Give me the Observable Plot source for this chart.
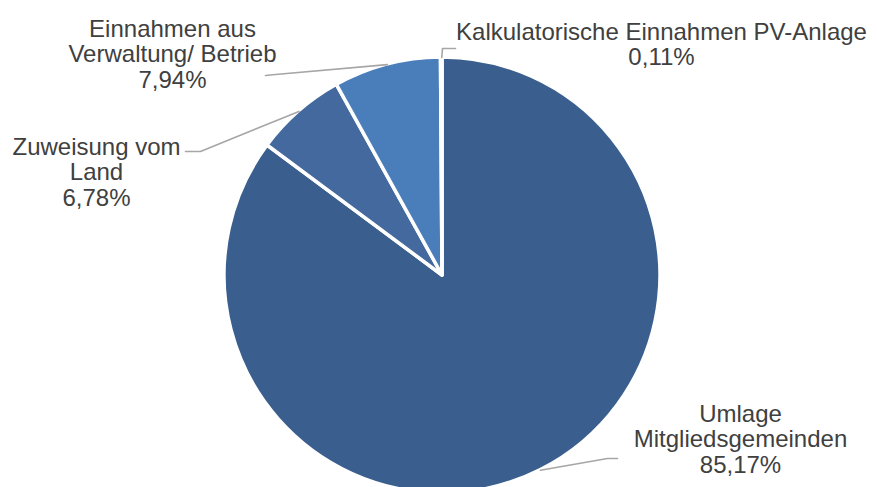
<!DOCTYPE html>
<html>
<head>
<meta charset="utf-8">
<script src="https://cdn.jsdelivr.net/npm/d3@7"></script>
<script src="https://cdn.jsdelivr.net/npm/@observablehq/plot@0.6"></script>
<style>
  html, body { margin: 0; padding: 0; background: #ffffff; }
  #chart svg { display: block; }
</style>
</head>
<body>
<div id="chart"></div>
<script>
// ---- data ----
const categories = [
  "Umlage Mitgliedsgemeinden",
  "Zuweisung vom Land",
  "Einnahmen aus Verwaltung/ Betrieb",
  "Kalkulatorische Einnahmen PV-Anlage"
];
const labelText = [
  "Umlage\nMitgliedsgemeinden",
  "Zuweisung vom\nLand",
  "Einnahmen aus\nVerwaltung/ Betrieb",
  "Kalkulatorische Einnahmen PV-Anlage"
];
const shares = [85.17, 6.78, 7.94, 0.11];

// ---- styles ----
const colors = ["#3a5f8e", "#43699f", "#4a7ebb", "#5a8cc8"];

// ---- layout ----
const W = 877, H = 487;
const cx = 442, cy = 275, R = 218;
// text anchor (center, top) and leader elbow/end per category
const labelLayout = [
  {tx: 740, ty: 403, elbow: [607, 458], end: [617, 458]},
  {tx: 96,  ty: 136, elbow: [200, 151], end: [185, 151]},
  {tx: 172, ty: 18,  elbow: [275, 74],  end: [265, 75]},
  {tx: 661, ty: 21,  elbow: [442, 48],  end: [455, 48]}
];

const fmt = v => d3.format(".2f")(v).replace(".", ",") + "%";

const arcs = d3.pie().sort(null).value(d => d)(shares);

const labels = categories.map((c, i) => ({
  category: c,
  label: labelText[i] + "\n" + fmt(shares[i]),
  tx: labelLayout[i].tx,
  ty: labelLayout[i].ty
}));

const leaders = [];
arcs.forEach((a, i) => {
  const mid = (a.startAngle + a.endAngle) / 2;
  const sx = cx + R * Math.sin(mid);
  const sy = cy - R * Math.cos(mid);
  const L = labelLayout[i];
  leaders.push({category: categories[i], x: sx, y: sy});
  leaders.push({category: categories[i], x: L.elbow[0], y: L.elbow[1]});
  leaders.push({category: categories[i], x: L.end[0], y: L.end[1]});
});

function pieMark(index, scales) {
  const g = d3.create("svg:g");
  const arc = d3.arc().innerRadius(0).outerRadius(R);
  g.attr("transform", `translate(${scales.x(cx)},${scales.y(cy)})`);
  g.selectAll("path")
    .data(arcs)
    .join("path")
    .attr("d", arc)
    .attr("fill", d => colors[d.index])
    .attr("stroke", "#ffffff")
    .attr("stroke-width", 3.5)
    .attr("stroke-linejoin", "round");
  return g.node();
}

const chart = Plot.plot({
  width: W,
  height: H,
  margin: 0,
  x: {type: "identity", axis: null},
  y: {type: "identity", axis: null},
  style: {background: "#ffffff", overflow: "hidden"},
  marks: [
    pieMark,
    Plot.line(leaders, {x: "x", y: "y", z: "category", stroke: "#a6a6a6", strokeWidth: 1.6}),
    Plot.text(labels, {
      x: "tx", y: "ty", text: "label",
      textAnchor: "middle", lineAnchor: "top", lineHeight: 1.07,
      fontSize: 24, fontFamily: "'Liberation Sans', Arial, sans-serif",
      fill: "#404040"
    })
  ]
});
document.getElementById("chart").appendChild(chart);
</script>
</body>
</html>
